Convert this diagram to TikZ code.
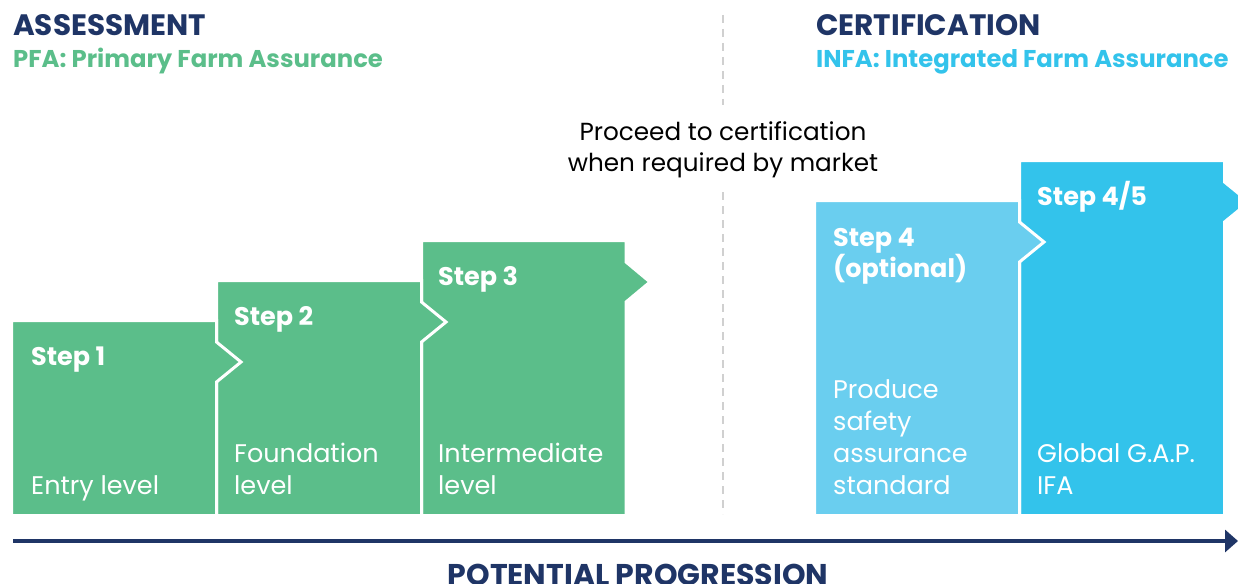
\documentclass[tikz,border=0pt]{standalone}
\usepackage{fontspec}
\setmainfont{Poppins}
\usepackage{xcolor}
\usetikzlibrary{arrows.meta}
\definecolor{stepgreen}{HTML}{5BBE8A}
\definecolor{steplight}{HTML}{6ACEEF}
\definecolor{stepcyan}{HTML}{33C3EB}
\definecolor{headnavy}{HTML}{1F3566}
\definecolor{dashgray}{HTML}{D0D0D0}

\tikzset{
    stepshape/.style = {draw = white, line width = 3pt, line join = miter},
    steptitle/.style = {anchor = base west, text = white, font = \fontsize{25.5pt}{31pt}\selectfont\bfseries, inner sep = 0pt, align = left},
    steplabel/.style = {anchor = base west, text = white, font = \fontsize{25.5pt}{32pt}\selectfont, inner sep = 0pt, align = left},
    headline/.style = {anchor = base west, font = \fontsize{29.5pt}{30pt}\selectfont\bfseries, inner sep = 0pt},
    subline/.style = {anchor = base west, font = \fontsize{24.3pt}{30pt}\selectfont\bfseries, inner sep = 0pt}
}

\begin{document}
\begin{tikzpicture}[x = 1pt, y = -1pt]
        \useasboundingbox (0, 0) rectangle (1238, 583);

        % Headers
        \node [headline, headnavy] (assess) at (13, 36) {ASSESSMENT};
        \node [subline, stepgreen] (pfa) at (13, 68) {PFA: Primary Farm Assurance};
        \node [headline, headnavy] (certif) at (816, 36) {CERTIFICATION};
        \node [subline, stepcyan] (infa) at (816, 68) {INFA: Integrated Farm Assurance};

        % Divider
        \coordinate (div top) at (723, 15);
        \coordinate (div mid1) at (723, 105);
        \coordinate (div mid2) at (723, 192);
        \coordinate (div bottom) at (723, 514);
        \draw [dashgray, line width = 2.5pt, dash pattern = on 8pt off 6pt] (div top) -- (div mid1);
        \draw [dashgray, line width = 2.5pt, dash pattern = on 8pt off 6pt] (div mid2) -- (div bottom);
        \node [align = center, font = \fontsize{24.7pt}{31pt}\selectfont, inner sep = 0pt] (proceed) at (723, 150) {Proceed to certification\\when required by market};

        % Assessment steps (drawn right to left)
        \draw [stepshape, fill = stepgreen] (421.5, 515.5) -- (421.5, 240.5) -- (626, 240.5) -- (626, 262) -- (650, 282) -- (626, 302) -- (626, 515.5) -- cycle;
        \draw [stepshape, fill = stepgreen] (216.5, 515.5) -- (216.5, 280.5) -- (421.5, 280.5) -- (421.5, 302) -- (446, 322) -- (421.5, 342) -- (421.5, 515.5) -- cycle;
        \draw [stepshape, fill = stepgreen] (11.5, 515.5) -- (11.5, 320.5) -- (216.5, 320.5) -- (216.5, 342) -- (241, 362) -- (216.5, 382) -- (216.5, 515.5) -- cycle;

        % Certification steps
        \draw [stepshape, fill = stepcyan] (1019.5, 515.5) -- (1019.5, 160.5) -- (1224.5, 160.5) -- (1224.5, 182) -- (1249, 202) -- (1224.5, 222) -- (1224.5, 515.5) -- cycle;
        \draw [stepshape, fill = steplight] (814.5, 515.5) -- (814.5, 200.5) -- (1019.5, 200.5) -- (1019.5, 222) -- (1044, 242) -- (1019.5, 262) -- (1019.5, 515.5) -- cycle;

        % Step titles
        \node [steptitle] (s1) at (31, 365) {Step 1};
        \node [steptitle] (s2) at (234, 325) {Step 2};
        \node [steptitle] (s3) at (438, 285) {Step 3};
        \node [steptitle] (s4) at (833, 277) {Step 4\\(optional)};
        \node [steptitle] (s45) at (1037, 205) {Step 4/5};

        % Step levels
        \node [steplabel] (l1) at (31, 494) {Entry level};
        \node [steplabel] (l2) at (234, 494) {Foundation\\level};
        \node [steplabel] (l3) at (438, 494) {Intermediate\\level};
        \node [steplabel] (l4) at (833, 494) {Produce\\safety\\assurance\\standard};
        \node [steplabel] (l45) at (1037, 494) {Global G.A.P.\\IFA};

        % Progression arrow
        \coordinate (prog start) at (13, 541);
        \coordinate (prog end) at (1238, 541);
        \draw [-{Triangle[length = 13pt, width = 22pt]}, line width = 4pt, headnavy] (prog start) -- (prog end);
        \node [anchor = base, headnavy, font = \fontsize{30pt}{30pt}\selectfont\bfseries, inner sep = 0pt] (prog) at (638, 585) {POTENTIAL PROGRESSION};

    \end{tikzpicture}
\end{document}
